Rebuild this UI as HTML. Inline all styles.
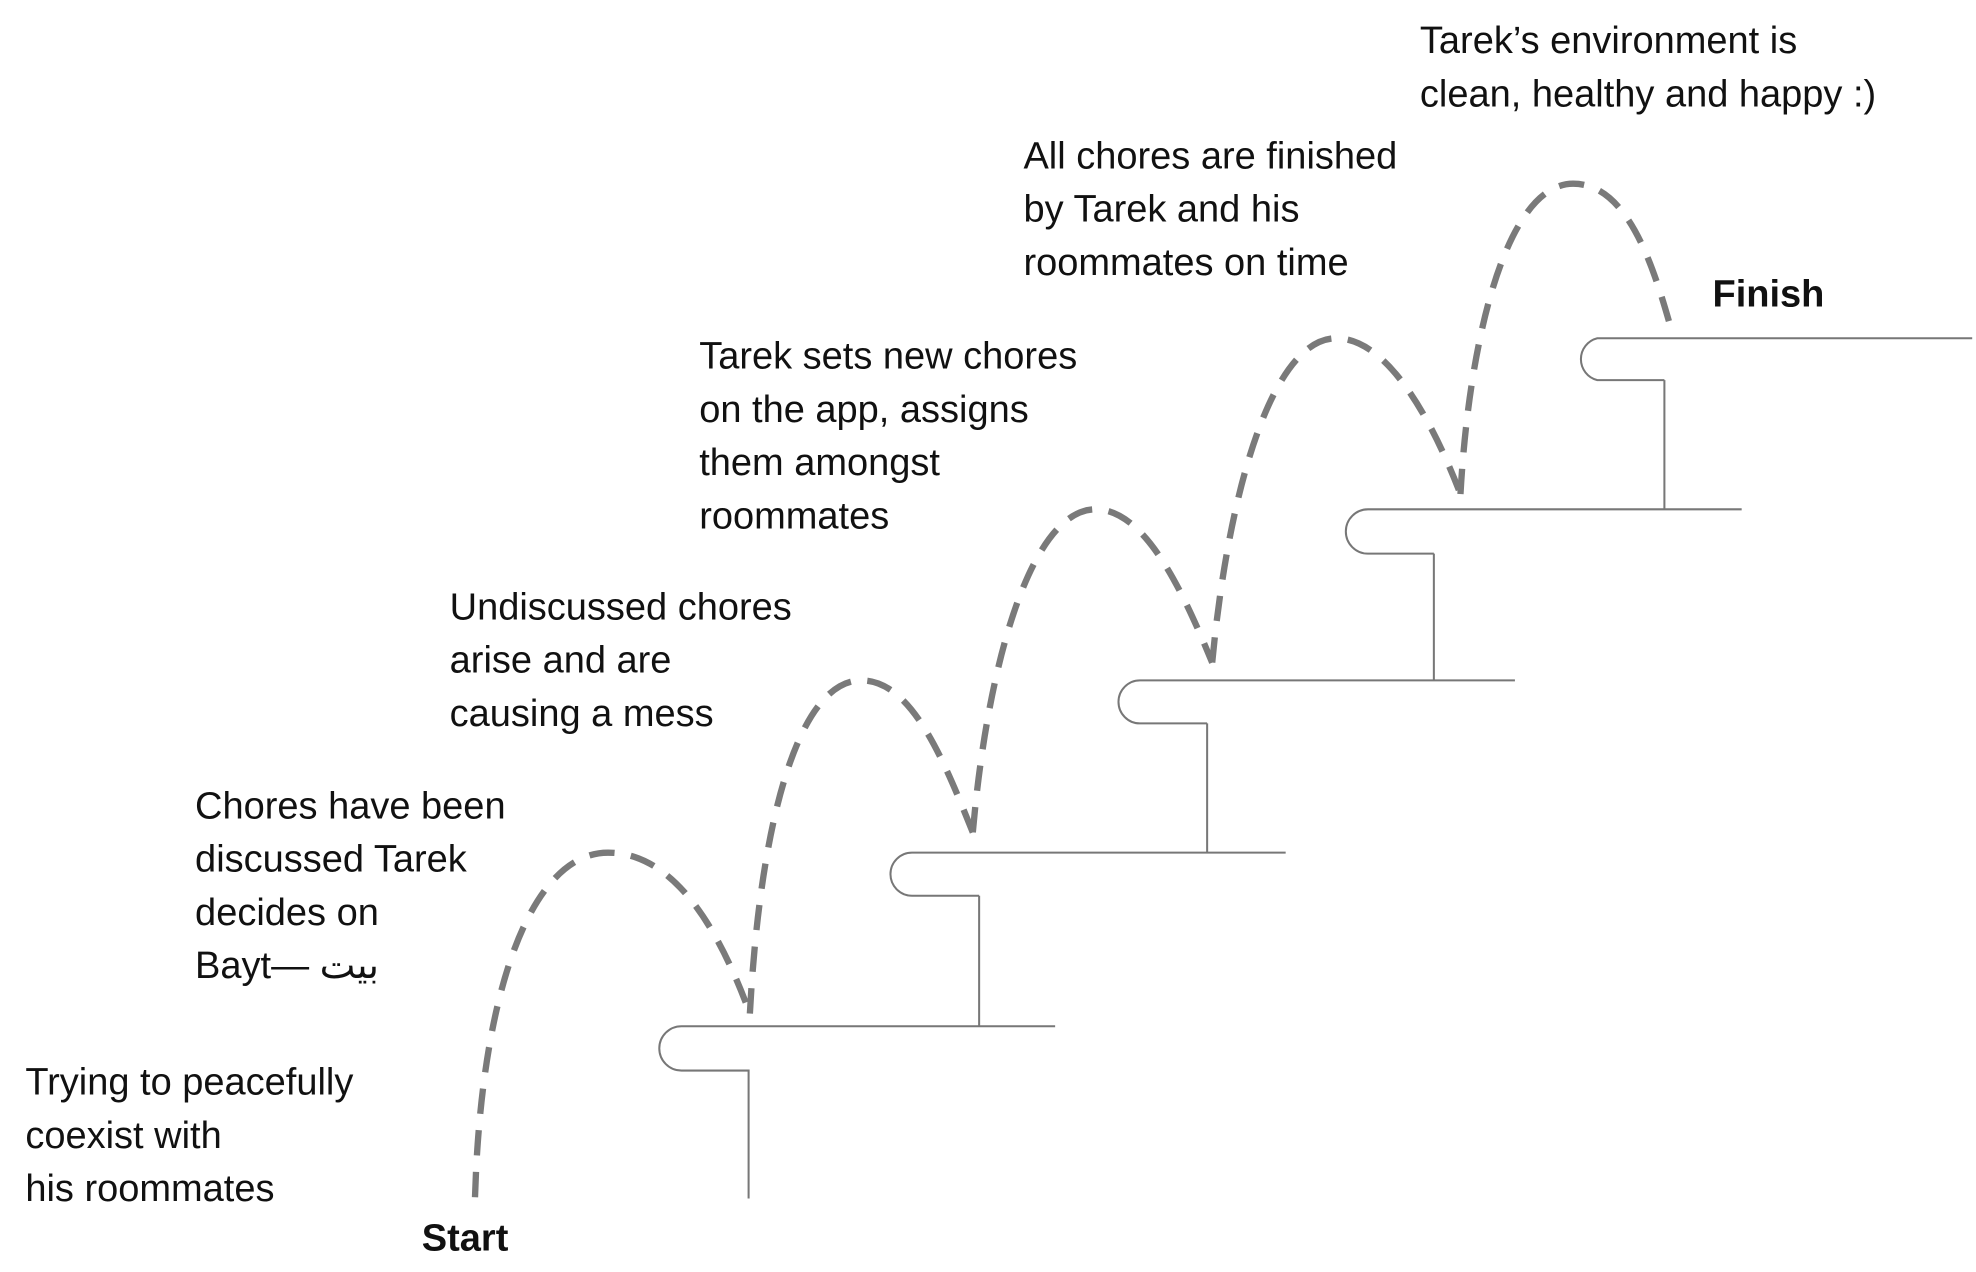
<!DOCTYPE html>
<html><head><meta charset="utf-8"><style>
html,body{margin:0;padding:0;background:#fff;}
svg{display:block;}
text{font-family:"Liberation Sans","DejaVu Sans",sans-serif;font-size:30px;fill:#111;}
.b{font-weight:bold;}
</style></head><body>
<svg width="1976" height="1272" viewBox="0 0 1560 1004" preserveAspectRatio="none" xmlns="http://www.w3.org/2000/svg">
<g fill="none" stroke="#777" stroke-width="1.6">
<path d="M833 810 H538 A17 17 0 0 0 538 845 H591 V946"/>
<path d="M773 810 V707"/>
<path d="M1015 673 H720 A17 17 0 0 0 720 707 H773"/>
<path d="M953 673 V571"/>
<path d="M1196 537 H900 A17 17 0 0 0 900 571 H953"/>
<path d="M1132 537 V437"/>
<path d="M1375 402 H1080 A17 17 0 0 0 1080 437 H1132"/>
<path d="M1314 402 V300"/>
<path d="M1557 267 H1261 A17 17 0 0 0 1261 300 H1314"/>
</g>
<g fill="none" stroke="#7a7a7a" stroke-width="5" stroke-dasharray="20 13">
<path d="M375 945 C380 780 420 673 480 673 C535 673 570 740 592 800"/>
<path d="M592 800 C600 650 630 537 680 537 C720 537 745 600 768 657"/>
<path d="M768 657 C780 520 815 402 865 402 C905 402 935 470 957 523"/>
<path d="M957 523 C970 385 1005 267 1055 267 C1095 267 1130 330 1153 390"/>
<path d="M1153 390 C1160 265 1190 145 1242 145 C1285 145 1305 210 1318 255"/>
</g>
<text x="20" y="864">Trying to peacefully</text>
<text x="20" y="906">coexist with</text>
<text x="20" y="948">his roommates</text>
<text x="333" y="987" class="b">Start</text>
<text x="154" y="646">Chores have been</text>
<text x="154" y="688">discussed Tarek</text>
<text x="154" y="730">decides on</text>
<text x="154" y="772">Bayt— <tspan style='font-family:"Noto Sans CJK SC","DejaVu Sans",sans-serif'>بيت</tspan></text>
<text x="355" y="489">Undiscussed chores</text>
<text x="355" y="531">arise and are</text>
<text x="355" y="573">causing a mess</text>
<text x="552" y="291">Tarek sets new chores</text>
<text x="552" y="333">on the app, assigns</text>
<text x="552" y="375">them amongst</text>
<text x="552" y="417">roommates</text>
<text x="808" y="133">All chores are finished</text>
<text x="808" y="175">by Tarek and his</text>
<text x="808" y="217">roommates on time</text>
<text x="1121" y="42">Tarek’s environment is</text>
<text x="1121" y="84">clean, healthy and happy :)</text>
<text x="1352" y="242" class="b">Finish</text>
</svg>
</body></html>
